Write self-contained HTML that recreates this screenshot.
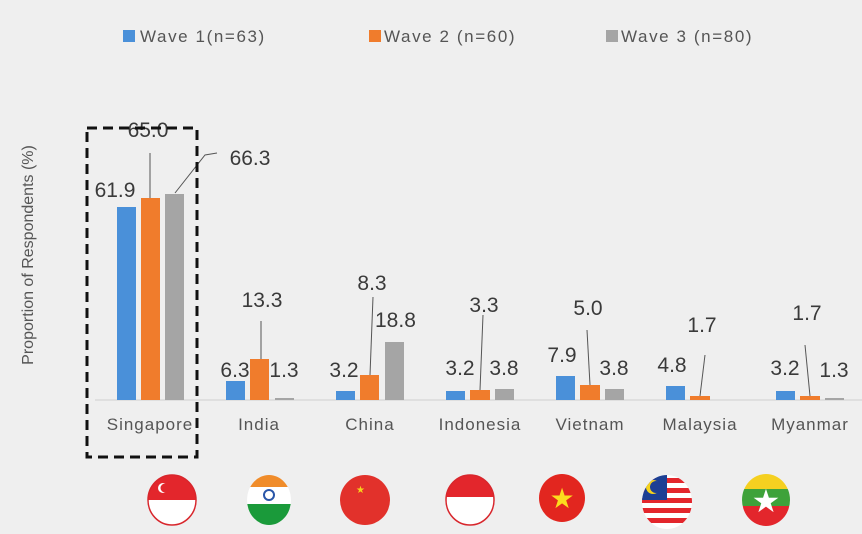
<!DOCTYPE html>
<html><head><meta charset="utf-8"><style>
html,body{margin:0;padding:0;background:#efefef;}
svg{display:block;font-family:"Liberation Sans",sans-serif;}
</style></head><body>
<svg width="862" height="534" viewBox="0 0 862 534" xmlns="http://www.w3.org/2000/svg">
<defs>
<clipPath id="c1"><ellipse cx="172" cy="500" rx="24" ry="25"/></clipPath>
<clipPath id="c2"><ellipse cx="269" cy="500" rx="22" ry="25"/></clipPath>
<clipPath id="c4"><ellipse cx="470" cy="500" rx="24" ry="25"/></clipPath>
<clipPath id="c6"><ellipse cx="667" cy="502" rx="25" ry="27"/></clipPath>
<clipPath id="c7"><ellipse cx="766" cy="500" rx="24" ry="26"/></clipPath>
</defs>
<rect width="862" height="534" fill="#efefef"/>
<!-- legend -->
<rect x="123" y="30" width="12" height="12" fill="#4a90d9"/>
<text x="140" y="42" font-size="17" fill="#555" letter-spacing="1.6">Wave 1(n=63)</text>
<rect x="369" y="30" width="12" height="12" fill="#f07c2c"/>
<text x="384" y="42" font-size="17" fill="#555" letter-spacing="1.6">Wave 2 (n=60)</text>
<rect x="606" y="30" width="12" height="12" fill="#a5a5a5"/>
<text x="621" y="42" font-size="17" fill="#555" letter-spacing="1.6">Wave 3 (n=80)</text>
<!-- y title -->
<text transform="translate(33,255) rotate(-90)" text-anchor="middle" font-size="16" fill="#555">Proportion of Respondents (%)</text>
<!-- axis -->
<line x1="95" y1="400" x2="862" y2="400" stroke="#cfcfcf" stroke-width="1"/>
<!-- bars -->
<g>
<rect x="117" y="207" width="19" height="193" fill="#4a90d9"/>
<rect x="141" y="198" width="19" height="202" fill="#f07c2c"/>
<rect x="165" y="194" width="19" height="206" fill="#a5a5a5"/>
<rect x="226" y="381" width="19" height="19" fill="#4a90d9"/>
<rect x="250" y="359" width="19" height="41" fill="#f07c2c"/>
<rect x="275" y="398" width="19" height="2" fill="#a5a5a5"/>
<rect x="336" y="391" width="19" height="9" fill="#4a90d9"/>
<rect x="360" y="375" width="19" height="25" fill="#f07c2c"/>
<rect x="385" y="342" width="19" height="58" fill="#a5a5a5"/>
<rect x="446" y="391" width="19" height="9" fill="#4a90d9"/>
<rect x="470" y="390" width="20" height="10" fill="#f07c2c"/>
<rect x="495" y="389" width="19" height="11" fill="#a5a5a5"/>
<rect x="556" y="376" width="19" height="24" fill="#4a90d9"/>
<rect x="580" y="385" width="20" height="15" fill="#f07c2c"/>
<rect x="605" y="389" width="19" height="11" fill="#a5a5a5"/>
<rect x="666" y="386" width="19" height="14" fill="#4a90d9"/>
<rect x="690" y="396" width="20" height="4" fill="#f07c2c"/>
<rect x="776" y="391" width="19" height="9" fill="#4a90d9"/>
<rect x="800" y="396" width="20" height="4" fill="#f07c2c"/>
<rect x="825" y="398" width="19" height="2" fill="#a5a5a5"/>
</g>
<!-- leader lines -->
<g stroke="#555" stroke-width="1" fill="none">
<line x1="150" y1="153" x2="150" y2="198"/>
<polyline points="175,193 205,155 217,153"/>
<line x1="261" y1="321" x2="261" y2="359"/>
<line x1="373" y1="297" x2="370" y2="375"/>
<line x1="483" y1="315" x2="480" y2="390"/>
<line x1="587" y1="330" x2="590" y2="385"/>
<line x1="705" y1="355" x2="700" y2="396"/>
<line x1="805" y1="345" x2="810" y2="396"/>
</g>
<!-- value labels -->
<g font-size="21" fill="#3a3a3a" text-anchor="middle">
<text x="115" y="197">61.9</text>
<text x="148" y="137">65.0</text>
<text x="250" y="165">66.3</text>
<text x="235" y="377">6.3</text>
<text x="262" y="307">13.3</text>
<text x="284" y="377">1.3</text>
<text x="344" y="377">3.2</text>
<text x="372" y="290">8.3</text>
<text x="375" y="327" text-anchor="start">18.8</text>
<text x="460" y="375">3.2</text>
<text x="484" y="312">3.3</text>
<text x="504" y="375">3.8</text>
<text x="562" y="362">7.9</text>
<text x="588" y="315">5.0</text>
<text x="614" y="375">3.8</text>
<text x="672" y="372">4.8</text>
<text x="702" y="332">1.7</text>
<text x="785" y="375">3.2</text>
<text x="807" y="320">1.7</text>
<text x="834" y="377">1.3</text>
</g>
<!-- dashed box -->
<rect x="87" y="128" width="110" height="329" fill="none" stroke="#111" stroke-width="3" stroke-dasharray="10,6"/>
<!-- categories -->
<g font-size="17" fill="#555" text-anchor="middle" letter-spacing="1">
<text x="150" y="430">Singapore</text>
<text x="259" y="430">India</text>
<text x="370" y="430">China</text>
<text x="480" y="430">Indonesia</text>
<text x="590" y="430">Vietnam</text>
<text x="700" y="430">Malaysia</text>
<text x="810" y="430">Myanmar</text>
</g>
<!-- flags -->
<g clip-path="url(#c1)"><rect x="140" y="470" width="70" height="30" fill="#e3262c"/><rect x="140" y="500" width="70" height="30" fill="#fff"/></g>
<ellipse cx="172" cy="500" rx="24" ry="25" fill="none" stroke="#d8262c" stroke-width="1.5"/>
<circle cx="163" cy="488" r="5" fill="#fff"/><circle cx="165" cy="488" r="4.5" fill="#e3262c"/>
<g clip-path="url(#c2)"><rect x="240" y="470" width="60" height="17" fill="#f08c2a"/><rect x="240" y="487" width="60" height="17" fill="#fff"/><rect x="240" y="504" width="60" height="25" fill="#1a9a3a"/></g>
<circle cx="269" cy="495" r="5" fill="none" stroke="#2a56a8" stroke-width="2"/>
<ellipse cx="365" cy="500" rx="25" ry="25" fill="#e2312b"/>
<text x="356" y="493" font-size="10" fill="#f7d21b">★</text>
<g clip-path="url(#c4)"><rect x="440" y="470" width="60" height="27" fill="#e3262c"/><rect x="440" y="497" width="60" height="30" fill="#fff"/></g>
<ellipse cx="470" cy="500" rx="24" ry="25" fill="none" stroke="#d8262c" stroke-width="1.5"/>
<ellipse cx="562" cy="498" rx="23" ry="24" fill="#e2261f"/>
<text x="562" y="508" font-size="28" fill="#fcdc1e" text-anchor="middle">★</text>
<g clip-path="url(#c6)">
<rect x="640" y="474" width="60" height="56" fill="#fff"/>
<rect x="640" y="478" width="60" height="5" fill="#e3262c"/><rect x="640" y="488" width="60" height="5" fill="#e3262c"/><rect x="640" y="498" width="60" height="5" fill="#e3262c"/><rect x="640" y="508" width="60" height="5" fill="#e3262c"/><rect x="640" y="518" width="60" height="5" fill="#e3262c"/>
<rect x="640" y="474" width="27" height="26" fill="#1c3f94"/>
<circle cx="653" cy="487" r="7" fill="#f5d21b"/><circle cx="656" cy="487" r="6" fill="#1c3f94"/>
</g>
<g clip-path="url(#c7)"><rect x="740" y="472" width="55" height="17" fill="#f5d020"/><rect x="740" y="489" width="55" height="17" fill="#3ea23a"/><rect x="740" y="506" width="55" height="22" fill="#e3262c"/></g>
<text x="766" y="512" font-size="32" fill="#fff" text-anchor="middle">★</text>
</svg>
</body></html>
